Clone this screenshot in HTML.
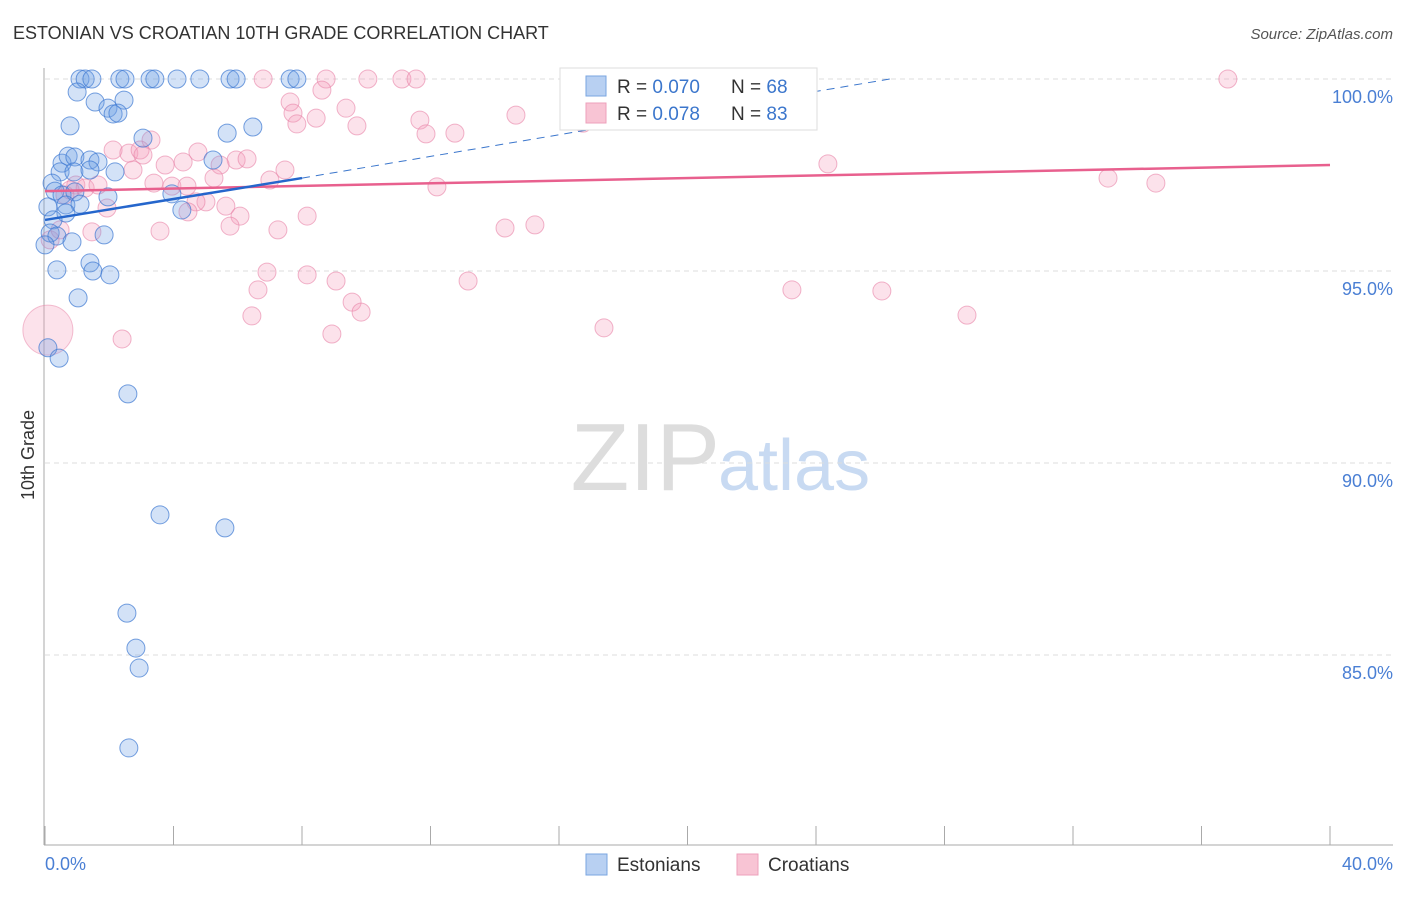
<!DOCTYPE html>
<html><head><meta charset="utf-8"><style>
body{margin:0;background:#fff;font-family:"Liberation Sans",sans-serif}
svg text{font-family:"Liberation Sans",sans-serif}
</style></head><body>
<svg id="c" width="1406" height="892">
<text x="13" y="39" font-size="18" fill="#333">ESTONIAN VS CROATIAN 10TH GRADE CORRELATION CHART</text>
<text x="1393" y="39" font-size="15" fill="#555" font-style="italic" text-anchor="end">Source: ZipAtlas.com</text>
<text x="34" y="455" font-size="18" fill="#333" text-anchor="middle" transform="rotate(-90 34 455)">10th Grade</text>
<text x="720" y="490" font-size="96" fill="#ddd" text-anchor="end" font-family="Liberation Serif">ZIP</text>
<text x="718" y="490" font-size="72" fill="#c8daf2">atlas</text>
<g id="grid"></g><g id="marks"></g>
<g>
<rect x="560" y="68" width="257" height="62" fill="#fff" stroke="#ddd"/>
<rect x="586" y="76" width="20" height="20" fill="#b8d0f2" stroke="#7aa6e0"/>
<rect x="586" y="103" width="20" height="20" fill="#f8c4d4" stroke="#eea0bb"/>
<text x="617" y="93" font-size="19" fill="#333">R = <tspan fill="#3b76cc">0.070</tspan></text>
<text x="731" y="93" font-size="19" fill="#333">N = <tspan fill="#3b76cc">68</tspan></text>
<text x="617" y="120" font-size="19" fill="#333">R = <tspan fill="#3b76cc">0.078</tspan></text>
<text x="731" y="120" font-size="19" fill="#333">N = <tspan fill="#3b76cc">83</tspan></text>
</g>
<g>
<rect x="586" y="854" width="21" height="21" fill="#b8d0f2" stroke="#7aa6e0"/>
<text x="617" y="871" font-size="19" fill="#333">Estonians</text>
<rect x="737" y="854" width="21" height="21" fill="#f8c4d4" stroke="#eea0bb"/>
<text x="768" y="871" font-size="19" fill="#333">Croatians</text>
</g>
</svg>
<script>
const xTicks=[0,40];
const yTicks=[85,90,95,100];
const blueX=[1.09,1.25,1.46,2.33,2.49,3.27,3.42,4.11,4.82,5.76,5.95,7.63,7.84,1.00,1.56,2.46,1.96,2.12,2.27,0.78,3.05,5.67,6.47,0.53,0.72,0.93,1.40,1.65,0.47,0.90,1.40,2.18,5.23,0.22,0.31,0.53,0.93,1.96,3.95,0.09,0.65,1.09,4.26,0.65,0.25,0.16,1.84,0.37,0.0,0.84,1.40,1.49,2.02,0.37,1.03,0.09,0.44,2.58,3.58,5.60,2.55,2.83,2.93,2.61];
const blueY=[100,100,100,100,100,100,100,100,100,100,100,100,100,99.66,99.40,99.45,99.24,99.09,99.11,98.78,98.46,98.59,98.75,97.81,97.99,97.97,97.89,97.84,97.58,97.58,97.63,97.58,97.89,97.29,97.08,96.98,97.06,96.93,97.01,96.67,96.72,96.74,96.59,96.51,96.33,95.99,95.94,95.91,95.68,95.76,95.21,95.00,94.90,95.03,94.30,93.00,92.73,91.80,88.65,88.31,86.09,85.18,84.66,82.58];
const pinkX=[6.79,8.75,10.05,11.11,11.55,22.26,36.82,8.62,7.63,7.72,9.37,7.84,8.44,9.71,11.67,11.86,12.76,14.66,16.75,3.30,2.12,2.61,2.96,3.05,4.76,4.30,3.74,2.74,5.95,6.29,5.45,7.47,33.09,34.58,24.37,12.20,7.00,3.39,3.95,4.42,5.26,0.96,0.78,1.25,1.65,5.01,4.70,5.63,1.93,4.45,6.07,5.76,8.16,7.25,3.58,1.46,0.16,14.32,15.25,6.91,8.16,9.06,6.63,9.56,9.84,6.44,8.93,2.40,13.17,17.40,23.25,26.05,28.70,0.62,0.47];
const pinkY=[100,100,100,100,100,100,100,99.71,99.40,99.11,99.24,98.83,98.98,98.78,98.93,98.57,98.59,99.06,98.85,98.41,98.15,98.07,98.15,98.02,98.10,97.84,97.76,97.63,97.89,97.92,97.76,97.63,97.42,97.29,97.79,97.19,97.37,97.29,97.21,97.21,97.42,97.24,97.11,97.16,97.24,96.80,96.80,96.69,96.64,96.54,96.43,96.17,96.43,96.07,96.04,96.02,95.81,96.12,96.20,94.97,94.90,94.74,94.51,94.19,93.93,93.83,93.36,93.23,94.74,93.52,94.51,94.48,93.85,96.98,96.07];
const bigPink=[0.09,93.46];
const blueLine=[0,96.33,8,97.42];
const blueDash=[8,97.42,26.3,100];
const pinkLine=[0,97.08,40,97.76];
const X=v=>45+v/40*1285, Y=v=>79+(100-v)/5*192;
const NS='http://www.w3.org/2000/svg';
function mk(t,a,p){const e=document.createElementNS(NS,t);for(const k in a)e.setAttribute(k,a[k]);p.appendChild(e);return e;}
const g=document.getElementById('grid'),m=document.getElementById('marks');
yTicks.forEach(v=>{
 const l=mk('line',{x1:45,x2:1393,y1:Y(v),y2:Y(v),stroke:'#ddd','stroke-dasharray':'5,4'},g);
 
 
 const t=mk('text',{x:1393,y:Y(v)+24,'font-size':18,fill:'#4a7fd4','text-anchor':'end'},g);t.textContent=v.toFixed(1)+'%';
 
 
});
const ax=mk('line',{x1:44,x2:44,y1:68,y2:845,stroke:'#aaa'},g);


const bx=mk('line',{x1:44,x2:1393,y1:845,y2:845,stroke:'#aaa'},g);


for(let i=0;i<=10;i++){const tk=mk('line',{x1:X(i*4),x2:X(i*4),y1:826,y2:845,stroke:'#aaa'},g);
 
 }
xTicks.forEach((v,i)=>{const t=mk('text',{x:i?1393:45,y:870,'font-size':18,fill:'#4a7fd4','text-anchor':i?'end':'start'},g);t.textContent=v.toFixed(1)+'%';
 
 });
pinkX.forEach((x,i)=>{const c=mk('circle',{cx:X(x),cy:Y(pinkY[i]),r:9,fill:'rgba(244,160,190,0.3)',stroke:'rgba(232,130,166,0.6)'},m);
 
 });
const bp=mk('circle',{cx:X(bigPink[0]),cy:Y(bigPink[1]),r:25,fill:'rgba(244,160,190,0.3)',stroke:'rgba(232,130,166,0.5)'},m);


blueX.forEach((x,i)=>{const c=mk('circle',{cx:X(x),cy:Y(blueY[i]),r:9,fill:'rgba(110,160,230,0.3)',stroke:'rgba(60,120,210,0.7)'},m);
 
 });
const pl=mk('line',{x1:X(pinkLine[0]),y1:Y(pinkLine[1]),x2:X(pinkLine[2]),y2:Y(pinkLine[3]),stroke:'#e8608e','stroke-width':2.5},m);


const bd=mk('line',{x1:X(blueDash[0]),y1:Y(blueDash[1]),x2:X(blueDash[2]),y2:Y(blueDash[3]),stroke:'#3b76cc','stroke-width':1,'stroke-dasharray':'8,6'},m);


const bl=mk('line',{x1:X(blueLine[0]),y1:Y(blueLine[1]),x2:X(blueLine[2]),y2:Y(blueLine[3]),stroke:'#2566cc','stroke-width':2.5},m);


</script>
</body></html>
